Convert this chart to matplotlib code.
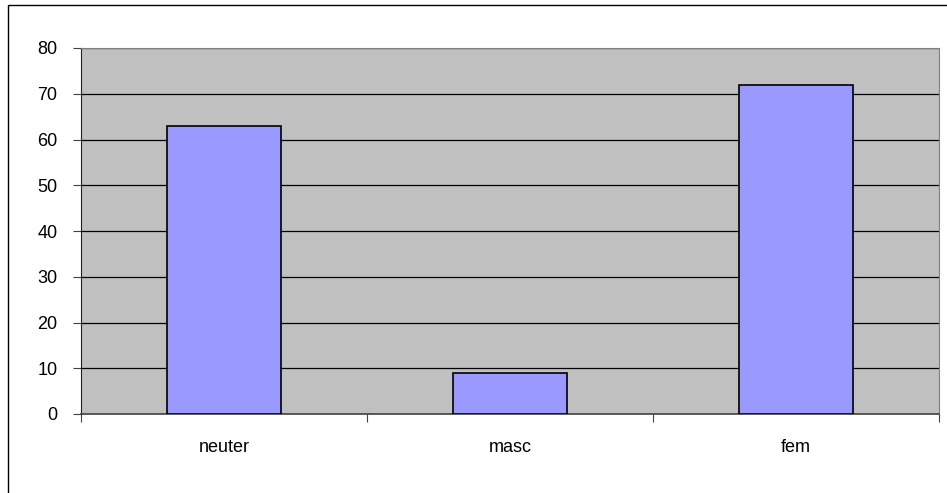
import matplotlib
matplotlib.use("Agg")
import matplotlib.pyplot as plt
from matplotlib.patches import Rectangle

categories = ["neuter", "masc", "fem"]
values = [63, 9, 72]
yticks = [0, 10, 20, 30, 40, 50, 60, 70, 80]

plt.rcParams['font.family'] = ['Liberation Sans', 'DejaVu Sans']

fig = plt.figure(figsize=(9.47, 4.93), dpi=100)
fig.patch.set_facecolor('white')
# outer chart frame (left/top visible)
fig.patches.append(Rectangle((8/947, -0.1), 1.2, 1 - 5/493 + 0.1, transform=fig.transFigure,
                             fill=False, edgecolor='black', linewidth=1.0))

ax = fig.add_axes([81/947, 1 - 414/493, (939 - 81)/947, (414 - 48)/493])
ax.set_facecolor('#C0C0C0')
x = list(range(len(categories)))
ax.bar(x, values, width=0.4, color='#9999FF', edgecolor='black', linewidth=1.2, zorder=3)
ax.set_xlim(-0.5, len(categories) - 0.5)
ax.set_ylim(0, 80)
ax.set_yticks(yticks)
ax.set_yticklabels([str(v) for v in yticks], fontsize=13)
for v in yticks[1:]:
    ax.axhline(v, color='black', linewidth=0.9, zorder=1)

ax.set_xticks([i - 0.5 for i in range(len(categories) + 1)])
ax.set_xticklabels([])
ax.set_xticks(x, minor=True)
ax.set_xticklabels(categories, minor=True, fontsize=13)
ax.tick_params(axis='x', which='minor', length=0, pad=18)
ax.tick_params(axis='x', which='major', direction='out', length=6, width=0.8, color='#404040')
ax.tick_params(axis='y', direction='out', length=6, width=0.8, pad=11, color='#404040')

ax.spines['left'].set_color('#202020')
ax.spines['bottom'].set_color('#404040')
ax.spines['bottom'].set_linewidth(1.2)
ax.spines['top'].set_color('#808080')
ax.spines['right'].set_color('#808080')

fig.savefig('out.png', dpi=100)
